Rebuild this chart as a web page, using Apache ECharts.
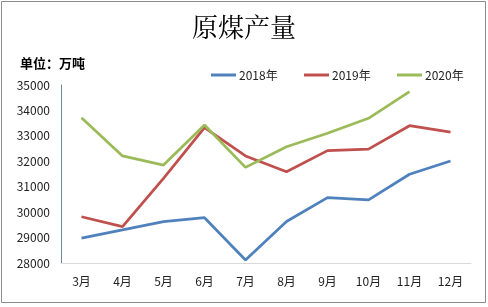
<!DOCTYPE html>
<html><head><meta charset="utf-8">
<script src="https://cdn.jsdelivr.net/npm/echarts@6/dist/echarts.min.js"></script>
<style>html,body{margin:0;padding:0;background:#fff}#c{width:488px;height:307px}</style>
</head><body><div id="c"></div>
<script>
const categories = ['3月','4月','5月','6月','7月','8月','9月','10月','11月','12月'];
const seriesNames = ['2018年','2019年','2020年'];
const data2018 = [28980, 29300, 29630, 29780, 28120, 29630, 30570, 30480, 31490, 32010];
const data2019 = [29820, 29430, 31330, 33320, 32210, 31590, 32420, 32480, 33400, 33150];
const data2020 = [33710, 32210, 31850, 33430, 31760, 32570, 33100, 33690, 34740];
const yTicks = [28000, 35000, 1000];
const colors = ['#4F81BD', '#C0504D', '#9BBB59'];

const chart = echarts.init(document.getElementById('c'), null, {renderer: 'canvas'});
const font = '"Noto Sans CJK SC", "Noto Sans", sans-serif';
const allData = [data2018, data2019, data2020];
const legendLefts = [206, 299, 392];
chart.setOption({
  animation: false,
  backgroundColor: '#fff',
  textStyle: {fontFamily: font},
  title: {
    text: '原煤产量', left: 'center', top: 9,
    textStyle: {fontFamily: '"Noto Serif CJK SC", "Noto Sans CJK SC", serif', fontSize: 26, fontWeight: 'normal', color: '#000'}
  },
  graphic: [
    {type: 'rect', shape: {x: 1.5, y: 1.5, width: 484, height: 301}, style: {fill: 'none', stroke: '#8c8c8c', lineWidth: 1}},
    {type: 'text', left: 20, top: 57, style: {text: '单位：万吨', font: 'bold 13px ' + font, fill: '#000'}}
  ],
  legend: seriesNames.map((n, i) => ({
    left: legendLefts[i], top: 64, itemWidth: 25, itemHeight: 3, itemGap: 4,
    icon: 'rect',
    textStyle: {fontSize: 12, color: '#222', fontFamily: font, padding: [0, 0, 0, -2]},
    data: [n]
  })),
  grid: {left: 61, right: 17, top: 85, bottom: 44},
  xAxis: {
    type: 'category', data: categories, boundaryGap: true,
    axisLine: {lineStyle: {color: '#d9d9d9', width: 1}},
    axisTick: {show: false},
    axisLabel: {color: '#222', fontSize: 12, margin: 12}
  },
  yAxis: {
    type: 'value', min: yTicks[0], max: yTicks[1], interval: yTicks[2],
    axisLine: {show: true, lineStyle: {color: '#6e8a96', width: 1}},
    axisTick: {show: false},
    splitLine: {show: false},
    axisLabel: {color: '#222', fontSize: 12, margin: 11, formatter: v => String(v)}
  },
  series: seriesNames.map((n, i) => ({
    name: n, type: 'line', data: allData[i], symbol: 'none',
    lineStyle: {width: 2.75, color: colors[i]}, itemStyle: {color: colors[i]}
  }))
});
</script></body></html>
